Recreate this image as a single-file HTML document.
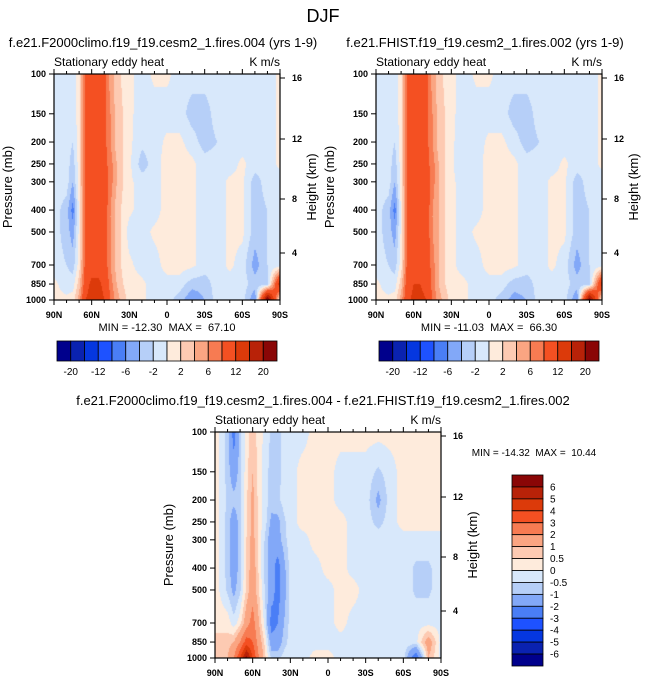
<!DOCTYPE html>
<html><head><meta charset="utf-8">
<style>
body{margin:0;background:#fff;width:646px;height:683px;overflow:hidden;font-family:"Liberation Sans",sans-serif;}
svg text{font-family:"Liberation Sans",sans-serif;fill:#000;white-space:pre;}
canvas{position:absolute;}
</style></head>
<body>
<div id="wrap" style="position:relative;width:646px;height:683px;">
<canvas id="c0" width="226" height="226" style="left:54px;top:74px"></canvas>
<canvas id="c1" width="226" height="226" style="left:376px;top:74px"></canvas>
<canvas id="c2" width="226" height="226" style="left:215px;top:432px"></canvas>
<svg id="svg" width="646" height="683" style="position:absolute;left:0;top:0"></svg>
</div>
<script>
// ---- data ----
const lats = [90,80,75,70,65,60,55,50,45,40,35,30,20,10,0,-10,-20,-30,-40,-50,-60,-70,-80,-90];
const levels = [100,150,200,250,300,400,500,700,850,1000];
const pTicks = [100,150,200,250,300,400,500,700,850,1000];
const latTickLabels = ["90N","60N","30N","0","30S","60S","90S"];
const heightLabels = ["16","12","8","4"];
const topBounds = [-20,-16,-12,-8,-6,-4,-2,0,2,4,6,8,12,16,20];
const topBarLabels = ["-20","-12","-6","-2","2","6","12","20"];
const diffBounds = [-6,-5,-4,-3,-2,-1,-0.5,0,0.5,1,2,3,4,5,6];
const diffBarLabels = ["6","5","4","3","2","1","0.5","0","-0.5","-1","-2","-3","-4","-5","-6"];
const palette = ["#00008c","#0a22b0","#0537e0","#1e52ff","#4a7ef6","#82a8f8","#b6cff8","#d8e8fb","#feebdc","#fdcab2","#faa582","#f77b52","#f45022","#dc3a0a","#b82208","#8a0606"];

const fieldA = [
[-1,-1,-1,1,9,10,10,9,5,3,1.5,0.5,-1,0.5,0.5,-1,-1,-1,-1,-1,-1,-1,-1,0.5],
[-1,-1,-1,1,9,10,10,9,6,3,2,0.5,-1,-1,-1,-1,-3,-3,-1,-1,-1,-1,-1,0.5],
[-1,-1,-2,1,9,10,10,9,6,3,2,0.5,-1.5,-1,0.5,0.5,-1,-3,-2,-1,-1,-1,-1,0.5],
[-1,-1,-3,1,9,10,10,9,7,4,2,0.5,-3,-1,1,1,0.5,-1,-1,-1,0.5,-1,-1,0.5],
[-1,-1,-4,1,9,10,10,10,7,4,2,0.5,-1,-1,1,1,0.5,-1,-1,0.5,0.5,-3,-1,-1],
[-1,-3,-7,0.5,9,10,10,10,6,3,1.5,0.5,-1,-1,1,1,0.5,-1,-1,0.5,0.5,-3,-2,-1],
[-1,-3,-5,0.5,9,10,10,10,6,3,1.5,-1,-1,0.5,1,1,0.5,-1,-1,0.5,0.5,-3,-2,-1],
[-1,-2,-3,1,9,10,10,10,6,3,1.5,0.5,-1,-1,1,1,0.5,-1,-1,0.5,-1,-5,-2,-1],
[0.5,-1,-1,3,10,13,13,11,7,4,2,1,0.5,-1,-1,-1,-3,-3,-1,-1,-1,-3,-3,15],
[0.5,0.5,1,5,12,14,14,12,8,5,3,1,0.5,-1,-1,-3,-6,-4,-1,-1,-1,-6,25,0]];
const fieldB = [
[-1,-1,-1,1,9,10,10,9,5,3,1.5,0.5,-1,0.5,0.5,-1,-1,-1,-1,-1,-1,-1,-1,0.5],
[-1,-1,-1,1,9,10,10,9,6,3,2,0.5,-1,-1,-1,-1,-3,-3,-1,-1,-1,-1,-1,0.5],
[-1,-1,-2,1,9,10,10,9,6,3,2,0.5,-1.5,-1,0.5,0.5,-1,-3,-2,-1,-1,-1,-1,0.5],
[-1,-1,-3,1,9,10,10,9,7,4,2,0.5,-2,-1,1,1,0.5,-1,-1,-1,0.5,-1,-1,0.5],
[-1,-1,-4,1,9,10,10,10,7,4,2,0.5,-1,-1,1,1,0.5,-1,-1,0.5,0.5,-3,-1,-1],
[-1,-3,-7,0.5,9,10,10,10,6,4,2,0.5,-1,-1,1,1,0.5,-1,-1,0.5,0.5,-3,-2,-1],
[-1,-3,-5,0.5,9,10,10,10,6,4,2,0.5,-1,0.5,1,1,0.5,-1,-1,0.5,0.5,-3,-2,-1],
[-1,-2,-3,1,9,10,10,10,7,4,2,0.5,-1,-1,1,1,0.5,-1,-1,0.5,-1,-5,-2,-1],
[0.5,-1,-1,3,10,12,12,11,7,4,2,1,0.5,-1,-1,-1,-3,-3,-1,-1,-1,-3,-3,14],
[0.5,0.5,1,5,11,13,13,12,8,5,3,1,0.5,-1,-1,-3,-5,-4,-1,-1,-1,-6,24,0]];
const fieldD = [
[0.3,-0.7,-2.5,-0.7,0.3,0.7,0.3,-0.2,-0.6,-0.7,-0.3,-0.2,-0.2,0.2,0.2,0.2,0.2,0.2,0.2,0.2,0.2,0.2,0.2,0.2],
[0.3,-0.7,-1.5,-0.7,0.3,1,0.3,-0.3,-0.7,-0.7,-0.3,-0.2,0.2,0.2,0.2,-0.2,-0.2,-0.2,-0.6,-0.2,0.2,0.2,0.2,0.2],
[0.3,-0.6,-0.8,-0.6,0.4,1.2,0.3,-0.3,-0.7,-0.6,-0.3,-0.2,0.2,0.2,0.2,-0.2,-0.2,-0.2,-1.2,-0.2,0.2,0.2,0.2,0.2],
[0.3,-0.7,-1.5,-0.7,0.4,1.2,0.3,-0.3,-1.2,-1.2,-0.6,-0.2,0.2,0.2,0.2,0.2,-0.2,-0.2,-0.7,-0.2,0.2,0.2,0.2,0.2],
[0.3,-0.7,-1.5,-0.7,0.5,1.3,0.3,-0.6,-1.5,-1.3,-0.7,-0.2,-0.2,0.2,0.2,0.2,-0.2,-0.2,-0.2,-0.2,-0.2,-0.2,-0.2,-0.2],
[0.3,-0.7,-1.5,-0.7,0.5,1.5,0.4,-0.7,-1.5,-2.5,-1.2,-0.3,-0.2,-0.2,0.2,0.2,-0.2,-0.2,-0.2,-0.2,-0.2,-0.6,-0.6,-0.2],
[0.3,-0.6,-1.2,-0.6,0.6,1.5,0.5,-0.6,-1.5,-2.5,-1.3,-0.3,-0.2,-0.2,-0.2,0.2,0.2,-0.2,-0.2,-0.2,-0.2,-0.6,-0.6,-0.2],
[0.4,0.3,-0.3,0.3,1.5,2.5,1,-0.3,-2.5,-2,-1,-0.3,-0.2,-0.2,-0.2,0.2,-0.2,-0.2,-0.2,-0.2,-0.2,-0.2,-0.2,-0.2],
[0.6,0.7,1,2,3.5,3,1.5,0.3,-1.5,-1.5,-0.7,-0.3,-0.2,-0.2,-0.2,-0.2,-0.2,-0.2,-0.2,-0.2,-0.2,-0.2,1.5,-0.2],
[0.6,1,2,4,6.5,4,2,0.6,-0.6,-0.6,-0.3,-0.2,-0.2,0.2,0.2,-0.2,-0.2,-0.2,-0.2,-0.2,-0.2,-3,1,-0.2]];

// ---- scales ----
const W=226,H=226;
function xOfLat(lat){return (90-lat)/180*W;}
function yOfP(p){return Math.log10(p/100)*H;}
function colorFor(v,b){let i=0;while(i<b.length&&v>=b[i])i++;return palette[i];}
function hexRgb(h){return [parseInt(h.slice(1,3),16),parseInt(h.slice(3,5),16),parseInt(h.slice(5,7),16)];}
function locate(arr,val,desc){
  for(let i=0;i<arr.length-1;i++){
    const a=arr[i],b=arr[i+1];
    if(desc? (val<=a&&val>=b):(val>=a&&val<=b)) return [i,(val-a)/(b-a)];
  }
  return [arr.length-2,1];
}
const logLev = levels.map(p=>Math.log10(p));
function drawField(id,field,bounds){
  const cv=document.getElementById(id),ctx=cv.getContext('2d');
  const img=ctx.createImageData(W,H);
  for(let py=0;py<H;py++){
    const lp=2+(py+0.5)/H; const [j,ty]=locate(logLev,lp,false);
    for(let px=0;px<W;px++){
      const lat=90-(px+0.5)/W*180; const [i,tx]=locate(lats,lat,true);
      const v=(1-ty)*((1-tx)*field[j][i]+tx*field[j][i+1])+ty*((1-tx)*field[j+1][i]+tx*field[j+1][i+1]);
      const c=hexRgb(colorFor(v,bounds)); const k=(py*W+px)*4;
      img.data[k]=c[0];img.data[k+1]=c[1];img.data[k+2]=c[2];img.data[k+3]=255;
    }
  }
  ctx.putImageData(img,0,0);
}
drawField('c0',fieldA,topBounds);
drawField('c1',fieldB,topBounds);
drawField('c2',fieldD,diffBounds);

// ---- axes ----
const svg=document.getElementById('svg');const NS='http://www.w3.org/2000/svg';
function el(tag,attrs,parent){const e=document.createElementNS(NS,tag);for(const k in attrs)e.setAttribute(k,attrs[k]);(parent||svg).appendChild(e);return e;}
function txt(s,x,y,size,anchor,name,extra){const t=el('text',Object.assign({x:x,y:y,'font-size':size,'text-anchor':anchor||'start'},extra||{}));t.textContent=s;


return t;}
const hOff=[4,65,125,179];
function axes(ox,oy,pfx){
  const g=el('g',{});
  
  
  el('rect',{x:ox,y:oy,width:W,height:H,fill:'none',stroke:'#000','stroke-width':1.2},g);
  for(let lat=90;lat>=-90;lat-=10){const x=ox+xOfLat(lat);const maj=lat%30===0;
    el('line',{x1:x,x2:x,y1:oy+H,y2:oy+H+(maj?5:3),stroke:'#000'},g);
    el('line',{x1:x,x2:x,y1:oy,y2:oy-(maj?5:3),stroke:'#000'},g);}
  latTickLabels.forEach((s,i)=>txt(s,ox+i*W/6,oy+H+18,9,'middle',pfx+'-x-tick-label',{'font-weight':'bold'}));
  pTicks.forEach(p=>{const y=oy+yOfP(p);el('line',{x1:ox-5,x2:ox,y1:y,y2:y,stroke:'#000'},g);
    txt(String(p),ox-8,y+3,9,'end',pfx+'-y-tick-label',{'font-weight':'bold'});});
  heightLabels.forEach((s,i)=>{const y=oy+hOff[i];el('line',{x1:ox+W,x2:ox+W+5,y1:y,y2:y,stroke:'#000'},g);
    txt(s,ox+W+12,y+3,9,'start',pfx+'-height-tick-label',{'font-weight':'bold'});});
  const yl=txt('Pressure (mb)',0,0,13,'middle',pfx+'-y-axis-title');yl.setAttribute('transform',`translate(${ox-42},${oy+H/2}) rotate(-90)`);
  const hl=txt('Height (km)',0,0,13,'middle',pfx+'-height-axis-title');hl.setAttribute('transform',`translate(${ox+W+36},${oy+H/2}) rotate(-90)`);
  txt('Stationary eddy heat',ox,oy-8,12,'start',pfx+'-variable-label');
  txt('K m/s',ox+W,oy-8,12,'end',pfx+'-units-label');
}
axes(54,74,'left');axes(376,74,'right');axes(215,432,'diff');
txt('DJF',323,22,18,'middle','figure-title');
txt('f.e21.F2000climo.f19_f19.cesm2_1.fires.004 (yrs 1-9)',163,47,13,'middle','left-panel-title');
txt('f.e21.FHIST.f19_f19.cesm2_1.fires.002 (yrs 1-9)',485,47,13,'middle','right-panel-title');
txt('f.e21.F2000climo.f19_f19.cesm2_1.fires.004 - f.e21.FHIST.f19_f19.cesm2_1.fires.002',323,405,13,'middle','diff-panel-title');
txt('MIN = -12.30  MAX =  67.10',167,331,11,'middle','left-min-max');
txt('MIN = -11.03  MAX =  66.30',489,331,11,'middle','right-min-max');
txt('MIN = -14.32  MAX =  10.44',534,456,10,'middle','diff-min-max');

function hbar(x0,pfx){
  const bw=220/16;
  palette.forEach((c,i)=>{const r=el('rect',{x:x0+i*bw,y:341,width:bw,height:20,fill:c,stroke:'#000','stroke-width':0.8});
    
    });
  topBarLabels.forEach((s,i)=>txt(s,x0+bw*(2*i+1),375,10,'middle',pfx+'-colorbar-label'));
}
hbar(57,'left');hbar(379,'right');
const bh=191/16;
palette.slice().reverse().forEach((c,i)=>{const r=el('rect',{x:512,y:475+i*bh,width:31,height:bh,fill:c,stroke:'#000','stroke-width':0.8});
  
  });
diffBarLabels.forEach((s,i)=>txt(s,550,475+bh*(i+1)+3.5,10,'start','diff-colorbar-label'));
</script>
</body></html>
